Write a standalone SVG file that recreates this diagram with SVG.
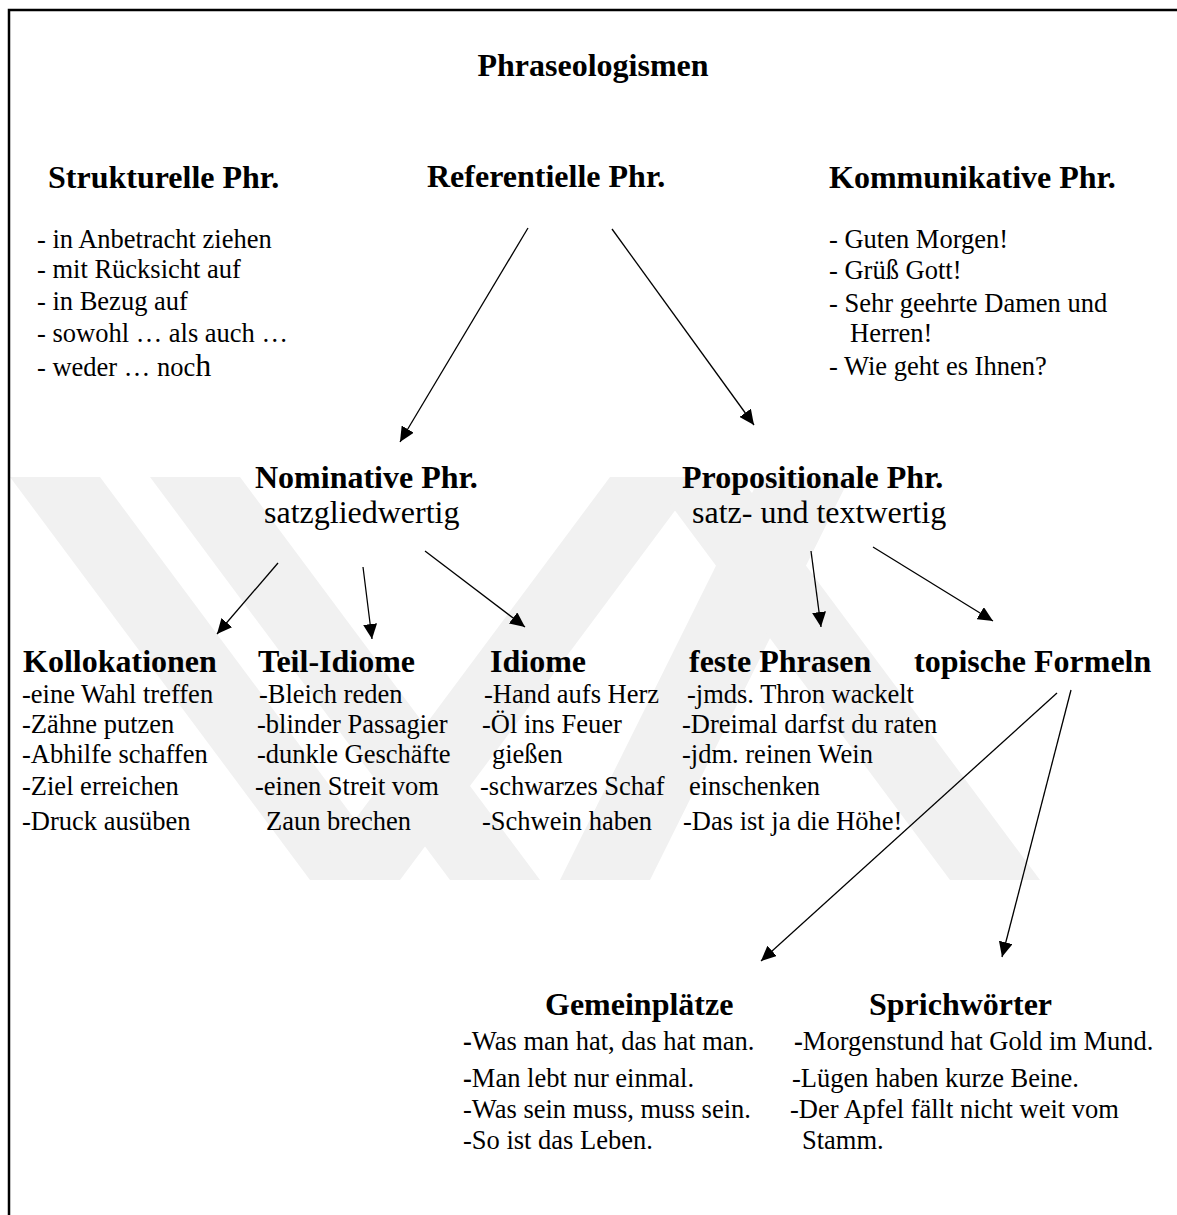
<svg xmlns="http://www.w3.org/2000/svg" width="1177" height="1215" viewBox="0 0 1177 1215">
<defs>
<marker id="ah" markerUnits="userSpaceOnUse" markerWidth="16" markerHeight="14" refX="15" refY="7" orient="auto">
<path d="M0,0 L15,7 L0,14 z" fill="#000"/>
</marker>
<style>
text{font-family:"Liberation Serif","Times New Roman",serif;fill:#000}
.h{font-size:32px;font-weight:bold}
.s{font-size:32px}
.i{font-size:26.5px}
.b{font-weight:bold}
.c{stroke:#000;stroke-width:1.3;fill:none;marker-end:url(#ah)}
.wm{fill:#f1f1f1}
</style>
</defs>
<rect width="1177" height="1215" fill="#fff"/>
<g id="watermark">
<polygon class="wm" points="10,477 100,477 400,880 310,880"/>
<polygon class="wm" points="150,477 240,477 540,880 450,880"/>
<polygon class="wm" points="310,880 400,880 700,477 610,477"/>
<polygon class="wm" points="560,880 650,880 850,477 760,477"/>
<polygon class="wm" points="650,477 740,477 1040,880 950,880"/>
</g>
<path d="M9,1215 V10 H1177" fill="none" stroke="#000" stroke-width="2.5"/>
<g id="title"><text class="h" x="593" y="76" text-anchor="middle">Phraseologismen</text></g>
<g id="strukturelle">
<text class="h" x="48" y="188">Strukturelle Phr.</text>
<text class="i" x="37" y="248">- in Anbetracht ziehen</text>
<text class="i" x="37" y="278">- mit Rücksicht auf</text>
<text class="i" x="37" y="310">- in Bezug auf</text>
<text class="i" x="37" y="342">- sowohl … als auch …</text>
<text class="i" x="37" y="376">- weder … noc<tspan font-size="32">h</tspan></text>
</g>
<g id="referentielle"><text class="h" x="427" y="187">Referentielle Phr.</text></g>
<g id="kommunikative">
<text class="h" x="829" y="188">Kommunikative Phr.</text>
<text class="i" x="829" y="248">- Guten Morgen!</text>
<text class="i" x="829" y="279">- Grüß Gott!</text>
<text class="i" x="829" y="312">- Sehr geehrte Damen und</text>
<text class="i" x="850" y="342">Herren!</text>
<text class="i" x="829" y="375">- Wie geht es Ihnen?</text>
</g>
<g id="nominative">
<text class="h" x="255" y="488">Nominative Phr.</text>
<text class="s" x="264" y="523">satzgliedwertig</text>
</g>
<g id="propositionale">
<text class="h" x="682" y="488">Propositionale Phr.</text>
<text class="s" x="692" y="523">satz- und textwertig</text>
</g>
<g id="kollokationen">
<text class="h" x="23" y="672">Kollokationen</text>
<text class="i" x="22" y="703">-eine Wahl treffen</text>
<text class="i" x="22" y="733">-Zähne putzen</text>
<text class="i" x="22" y="763">-Abhilfe schaffen</text>
<text class="i" x="22" y="795">-Ziel erreichen</text>
<text class="i" x="22" y="830">-Druck ausüben</text>
</g>
<g id="teil-idiome">
<text class="h" x="258" y="672">Teil-Idiome</text>
<text class="i" x="259" y="703">-Bleich reden</text>
<text class="i" x="257" y="733">-blinder Passagier</text>
<text class="i" x="257" y="763">-dunkle Geschäfte</text>
<text class="i" x="255" y="795">-einen Streit vom</text>
<text class="i" x="266" y="830">Zaun brechen</text>
</g>
<g id="idiome">
<text class="h" x="490" y="672">Idiome</text>
<text class="i" x="484" y="703">-Hand aufs Herz</text>
<text class="i" x="482" y="733">-Öl ins Feuer</text>
<text class="i" x="492" y="763">gießen</text>
<text class="i" x="480" y="795">-schwarzes Schaf</text>
<text class="i" x="482" y="830">-Schwein haben</text>
</g>
<g id="feste-phrasen">
<text class="h" x="689" y="672">feste Phrasen</text>
<text class="i" x="687" y="703">-jmds. Thron wackelt</text>
<text class="i" x="682" y="733">-Dreimal darfst du raten</text>
<text class="i" x="682" y="763">-jdm. reinen Wein</text>
<text class="i" x="689" y="795">einschenken</text>
<text class="i" x="683" y="830">-Das ist ja die Höhe!</text>
</g>
<g id="topische-formeln"><text class="h" x="914" y="672">topische Formeln</text></g>
<g id="gemeinplaetze">
<text class="h" x="545" y="1015">Gemeinplätze</text>
<text class="i" x="463" y="1050"><tspan class="b">-</tspan>Was man hat, das hat man.</text>
<text class="i" x="463" y="1087"><tspan class="b">-</tspan>Man lebt nur einmal.</text>
<text class="i" x="463" y="1118">-Was sein muss, muss sein.</text>
<text class="i" x="463" y="1149">-So ist das Leben.</text>
</g>
<g id="sprichwoerter">
<text class="h" x="869" y="1015">Sprichwörter</text>
<text class="i" x="794" y="1050"><tspan class="b">-</tspan>Morgenstund hat Gold im Mund.</text>
<text class="i" x="792" y="1087">-Lügen haben kurze Beine.</text>
<text class="i" x="790" y="1118">-Der Apfel fällt nicht weit vom</text>
<text class="i" x="802" y="1149">Stamm.</text>
</g>
<g id="connectors">
<line class="c" x1="528" y1="228" x2="400" y2="442"/>
<line class="c" x1="612" y1="229" x2="754" y2="425"/>
<line class="c" x1="278" y1="563" x2="217" y2="634"/>
<line class="c" x1="363" y1="567" x2="372" y2="639"/>
<line class="c" x1="425" y1="551" x2="525" y2="627"/>
<line class="c" x1="811" y1="551" x2="821" y2="627"/>
<line class="c" x1="873" y1="547" x2="993" y2="621"/>
<line class="c" x1="1057" y1="693" x2="761" y2="961"/>
<line class="c" x1="1071" y1="690" x2="1002" y2="957"/>
</g>
</svg>
